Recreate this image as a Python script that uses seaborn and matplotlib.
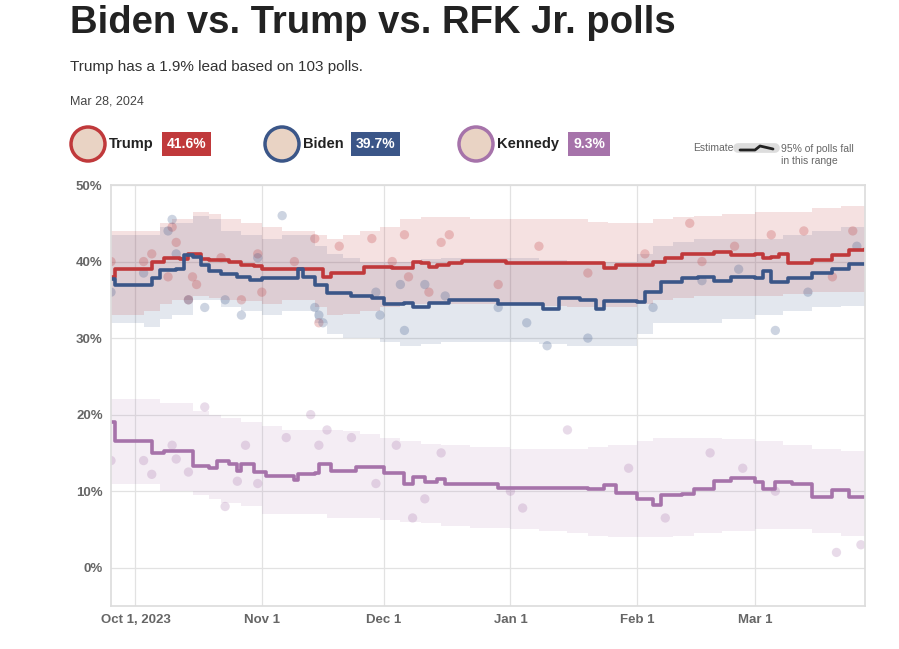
import pandas as pd
import numpy as np
import matplotlib.pyplot as plt
import matplotlib.dates as mdates
from matplotlib.patches import Ellipse
import seaborn as sns

sns.set_theme(style="white")
plt.rcParams['font.family'] = ['Liberation Sans', 'DejaVu Sans']

# Estimate lines (breakpoints, drawn as steps)
trump_dates = ["2023-09-25", "2023-09-26", "2023-10-03", "2023-10-05", "2023-10-08", "2023-10-12", "2023-10-14",
               "2023-10-17", "2023-10-19", "2023-10-24", "2023-10-27", "2023-10-30", "2023-11-01", "2023-11-14",
               "2023-11-16", "2023-11-18", "2023-11-20", "2023-11-26", "2023-12-03", "2023-12-08", "2023-12-10",
               "2023-12-12", "2023-12-14", "2023-12-17", "2023-12-20", "2023-12-31", "2024-01-22", "2024-01-24",
               "2024-01-27", "2024-02-01", "2024-02-05", "2024-02-08", "2024-02-12", "2024-02-20", "2024-02-24",
               "2024-03-01", "2024-03-03", "2024-03-05", "2024-03-07", "2024-03-09", "2024-03-15", "2024-03-20",
               "2024-03-24", "2024-03-28"]
trump_vals = [38, 39, 39, 40, 40.5, 40.3, 41, 40.3, 40.2, 40, 39.5, 39.4, 39.0, 39, 38, 38.5, 38.5, 39.3, 39.2, 39.9,
              39.8, 39.3, 39.6, 39.8, 40.1, 39.8, 39.8, 39.1, 39.5, 39.6, 40, 40.5, 41, 41.3, 40.8, 41.0, 40.5, 40.6,
              41.0, 39.8, 40.2, 40.8, 41.5, 41.6]

biden_dates = ["2023-09-25", "2023-09-26", "2023-10-03", "2023-10-05", "2023-10-07", "2023-10-11", "2023-10-13",
               "2023-10-15", "2023-10-17", "2023-10-19", "2023-10-22", "2023-10-26", "2023-10-29", "2023-11-01",
               "2023-11-09", "2023-11-10", "2023-11-11", "2023-11-14", "2023-11-17", "2023-11-23", "2023-11-28",
               "2023-12-01", "2023-12-06", "2023-12-08", "2023-12-12", "2023-12-17", "2023-12-29", "2024-01-09",
               "2024-01-13", "2024-01-18", "2024-01-22", "2024-01-24", "2024-02-01", "2024-02-03", "2024-02-07",
               "2024-02-12", "2024-02-16", "2024-02-20", "2024-02-24", "2024-03-01", "2024-03-03", "2024-03-05",
               "2024-03-09", "2024-03-15", "2024-03-20", "2024-03-24", "2024-03-28"]
biden_vals = [37.7, 37.0, 37.0, 37.8, 38.9, 39.0, 40.8, 40.6, 39.5, 38.8, 38.4, 38.0, 37.6, 37.8, 37.8, 39.0, 38.0,
              37.0, 35.9, 35.5, 35.3, 34.4, 34.6, 34.1, 34.6, 35.0, 34.4, 33.8, 35.3, 35.0, 33.8, 34.8, 34.7, 36.0,
              37.3, 37.8, 38.0, 37.5, 38.0, 37.8, 38.8, 37.3, 37.8, 38.5, 39.0, 39.7, 39.7]

kennedy_dates = ["2023-09-25", "2023-09-26", "2023-10-03", "2023-10-05", "2023-10-08", "2023-10-13", "2023-10-15",
                 "2023-10-19", "2023-10-21", "2023-10-24", "2023-10-26", "2023-10-27", "2023-10-30", "2023-11-02",
                 "2023-11-09", "2023-11-10", "2023-11-14", "2023-11-15", "2023-11-18", "2023-11-24", "2023-12-01",
                 "2023-12-06", "2023-12-08", "2023-12-11", "2023-12-14", "2023-12-16", "2023-12-29", "2024-01-20",
                 "2024-01-24", "2024-01-27", "2024-02-01", "2024-02-05", "2024-02-07", "2024-02-12", "2024-02-15",
                 "2024-02-20", "2024-02-24", "2024-03-01", "2024-03-03", "2024-03-06", "2024-03-10", "2024-03-15",
                 "2024-03-20", "2024-03-24", "2024-03-28"]
kennedy_vals = [19, 16.5, 16.5, 15, 15.3, 15.3, 13.3, 13, 14, 13.6, 12.6, 13.5, 12.5, 12.0, 11.5, 12.3, 12.4, 13.5,
                12.6, 13.1, 12.4, 11, 11.8, 11.2, 11.6, 11.0, 10.4, 10.3, 10.8, 9.8, 9.0, 8.2, 9.5, 9.6, 10.3, 11.3,
                11.7, 11.2, 10.3, 11.2, 11.0, 9.3, 10.2, 9.3, 9.3]

# 95% ranges
band_dates = ["2023-09-25", "2023-10-03", "2023-10-07", "2023-10-10", "2023-10-15", "2023-10-19", "2023-10-22",
              "2023-10-27", "2023-11-01", "2023-11-06", "2023-11-10", "2023-11-14", "2023-11-17", "2023-11-21",
              "2023-11-25", "2023-11-30", "2023-12-05", "2023-12-10", "2023-12-15", "2023-12-22", "2024-01-01",
              "2024-01-08", "2024-01-15", "2024-01-20", "2024-01-25", "2024-02-01", "2024-02-05", "2024-02-10",
              "2024-02-15", "2024-02-22", "2024-03-01", "2024-03-08", "2024-03-15", "2024-03-22", "2024-03-28"]
trump_hi = [44, 44, 45, 45.5, 46.5, 46.2, 45.5, 45, 44.5, 44, 44, 43.5, 43, 43.5, 44, 44.5, 45.5, 45.8, 45.8, 45.5,
            45.5, 45.5, 45.5, 45.2, 45, 45, 45.5, 45.8, 46, 46.2, 46.5, 46.5, 47, 47.2, 47.2]
trump_lo = [33, 33.5, 34.5, 35, 35.5, 35.2, 35, 34.8, 34.5, 35, 35, 34, 33, 33.2, 33.5, 34, 34.5, 34.5, 34.5, 34.5,
            34.5, 34.2, 34, 34, 34, 34.5, 35, 35.2, 35.5, 35.5, 35.5, 35.8, 36, 36, 36]
biden_hi = [43.5, 43.5, 44.5, 45, 46, 45.5, 44, 43.5, 43, 43.5, 43.5, 42, 41, 40.5, 40, 40, 40, 40.3, 40.5, 40.5,
            40.5, 40.2, 40, 40, 40, 41, 42, 42.5, 43, 43, 43, 43.5, 44, 44.5, 45]
biden_lo = [32, 31.5, 32.5, 33, 35, 35, 34, 33.5, 33, 33.5, 33.5, 32, 30.5, 30, 30, 29.5, 29, 29.2, 29.5, 29.5,
            29.5, 29.2, 29, 29, 29, 30.5, 32, 32, 32, 32.5, 33, 33.5, 34, 34.2, 34.5]
kennedy_hi = [22, 22, 21.5, 21.5, 20.5, 20, 19.5, 19, 18.5, 18, 18, 18, 18, 17.8, 17.5, 17, 16.5, 16.2, 16, 15.8,
              15.5, 15.5, 15.5, 15.8, 16, 16.5, 17, 17, 17, 16.8, 16.5, 16, 15.5, 15.2, 15]
kennedy_lo = [11, 11, 10, 10, 9.5, 9, 8.5, 8, 7, 7, 7, 7, 6.5, 6.5, 6.5, 6.2, 6, 5.8, 5.5, 5.2, 5, 4.8, 4.5, 4.2,
              4, 4, 4, 4.2, 4.5, 4.8, 5, 5, 4.5, 4.2, 4]

# individual polls
trump_poll_d = ["2023-09-25", "2023-10-03", "2023-10-05", "2023-10-09", "2023-10-10", "2023-10-11", "2023-10-14",
                "2023-10-15", "2023-10-16", "2023-10-22", "2023-10-27", "2023-10-31", "2023-11-01", "2023-11-09",
                "2023-11-14", "2023-11-15", "2023-11-20", "2023-11-28", "2023-12-03", "2023-12-06", "2023-12-07",
                "2023-12-12", "2023-12-15", "2023-12-17", "2023-12-29", "2024-01-08", "2024-01-20", "2024-02-03",
                "2024-02-14", "2024-02-17", "2024-02-25", "2024-03-05", "2024-03-13", "2024-03-20", "2024-03-25"]
trump_poll_v = [40, 40, 41, 38, 44.5, 42.5, 35, 38, 37, 40.5, 35, 41, 36, 40, 43, 32, 42, 43, 40, 43.5, 38, 36, 42.5,
                43.5, 37, 42, 38.5, 41, 45, 40, 42, 43.5, 44, 38, 44]
biden_poll_d = ["2023-09-25", "2023-10-03", "2023-10-09", "2023-10-10", "2023-10-11", "2023-10-14", "2023-10-18",
                "2023-10-23", "2023-10-27", "2023-10-31", "2023-11-06", "2023-11-14", "2023-11-15", "2023-11-16",
                "2023-11-29", "2023-11-30", "2023-12-05", "2023-12-06", "2023-12-11", "2023-12-16", "2023-12-29",
                "2024-01-05", "2024-01-10", "2024-01-20", "2024-02-05", "2024-02-17", "2024-02-26", "2024-03-06",
                "2024-03-14", "2024-03-26"]
biden_poll_v = [36, 38.5, 44, 45.5, 41, 35, 34, 35, 33, 40.5, 46, 34, 33, 32, 36, 33, 37, 31, 37, 35.5, 34, 32,
                29, 30, 34, 37.5, 39, 31, 36, 42]
kennedy_poll_d = ["2023-09-25", "2023-10-03", "2023-10-05", "2023-10-10", "2023-10-11", "2023-10-14", "2023-10-18",
                  "2023-10-23", "2023-10-26", "2023-10-28", "2023-10-31", "2023-11-07", "2023-11-13", "2023-11-15",
                  "2023-11-17", "2023-11-23", "2023-11-29", "2023-12-04", "2023-12-08", "2023-12-11", "2023-12-15",
                  "2024-01-01", "2024-01-04", "2024-01-15", "2024-01-30", "2024-02-08", "2024-02-19", "2024-02-27",
                  "2024-03-06", "2024-03-21", "2024-03-27"]
kennedy_poll_v = [14, 14, 12.2, 16, 14.2, 12.5, 21, 8, 11.3, 16, 11, 17, 20, 16, 18, 17, 11, 16, 6.5, 9, 15, 10,
                  7.8, 18, 13, 6.5, 15, 13, 10, 2, 3]

colors = {"Trump": "#c0393b", "Biden": "#3b5688", "Kennedy": "#a673aa"}
band_alpha = {"Trump": 0.15, "Biden": 0.14, "Kennedy": 0.12}

lines = pd.concat([
    pd.DataFrame({"date": pd.to_datetime(trump_dates), "value": trump_vals, "cand": "Trump"}),
    pd.DataFrame({"date": pd.to_datetime(biden_dates), "value": biden_vals, "cand": "Biden"}),
    pd.DataFrame({"date": pd.to_datetime(kennedy_dates), "value": kennedy_vals, "cand": "Kennedy"}),
])
polls = pd.concat([
    pd.DataFrame({"date": pd.to_datetime(trump_poll_d), "value": trump_poll_v, "cand": "Trump"}),
    pd.DataFrame({"date": pd.to_datetime(biden_poll_d), "value": biden_poll_v, "cand": "Biden"}),
    pd.DataFrame({"date": pd.to_datetime(kennedy_poll_d), "value": kennedy_poll_v, "cand": "Kennedy"}),
])
bd = pd.to_datetime(band_dates)
bands = {"Trump": (trump_lo, trump_hi), "Biden": (biden_lo, biden_hi), "Kennedy": (kennedy_lo, kennedy_hi)}

fig = plt.figure(figsize=(8.99, 6.49), dpi=100)
ax = fig.add_axes([111 / 899, 43 / 649, 754 / 899, 421 / 649])

for c in ["Biden", "Trump", "Kennedy"]:
    lo, hi = bands[c]
    ax.fill_between(bd, lo, hi, step="post", color=colors[c], alpha=band_alpha[c], lw=0)

sns.scatterplot(data=polls, x="date", y="value", hue="cand", palette=colors, s=45, alpha=0.25,
                edgecolor="none", legend=False, ax=ax)
sns.lineplot(data=lines, x="date", y="value", hue="cand", palette=colors, lw=2.6,
             drawstyle="steps-post", legend=False, ax=ax)

ax.set_xlim(pd.Timestamp("2023-09-25"), pd.Timestamp("2024-03-28"))
ax.set_ylim(-5, 50)
ax.set_yticks([0, 10, 20, 30, 40, 50])
ax.set_yticklabels([f"{v}%" for v in [0, 10, 20, 30, 40, 50]])
month_ticks = pd.to_datetime(["2023-10-01", "2023-11-01", "2023-12-01", "2024-01-01", "2024-02-01", "2024-03-01"])
ax.set_xticks(month_ticks)
ax.set_xticklabels(["Oct 1, 2023", "Nov 1", "Dec 1", "Jan 1", "Feb 1", "Mar 1"])
ax.grid(True, color="#e2e2e2", lw=0.9)
ax.set_axisbelow(True)
for s in ax.spines.values():
    s.set_color("#dddddd")
ax.tick_params(length=0, labelsize=9.5, labelcolor="#666666", pad=6)
for t in ax.get_xticklabels() + ax.get_yticklabels():
    t.set_fontweight("bold")
ax.set_xlabel("")
ax.set_ylabel("")

# header
fig.text(70 / 899, 1 - 23 / 649, "Biden vs. Trump vs. RFK Jr. polls", fontsize=27.5, fontweight="bold",
         color="#222222", va="center")
fig.text(70 / 899, 1 - 67 / 649, "Trump has a 1.9% lead based on 103 polls.", fontsize=11,
         color="#333333", va="center")
fig.text(70 / 899, 1 - 101 / 649, "Mar 28, 2024", fontsize=9, color="#444444", va="center")

names = ["Trump", "Biden", "Kennedy"]
latest = [trump_vals[-1], biden_vals[-1], kennedy_vals[-1]]
xs = [88, 282, 476]
box_xs = [167, 356, 573]
for name, val, x0, bx in zip(names, latest, xs, box_xs):
    y0 = 1 - 144 / 649
    fig.patches.append(Ellipse((x0 / 899, y0), 34 / 899, 34 / 649, transform=fig.transFigure,
                               facecolor="#e9d3c4", edgecolor=colors[name], lw=2.5))
    fig.text((x0 + 21) / 899, y0, name, fontsize=10.5, fontweight="bold", color="#222222", va="center")
    fig.text(bx / 899, y0, f"{val:.1f}%", fontsize=10, fontweight="bold", color="white", va="center",
             bbox=dict(boxstyle="square,pad=0.35", fc=colors[name], ec="none"))

fig.text(734 / 899, 1 - 148 / 649, "Estimate", fontsize=7.5, color="#666666", va="center", ha="right")
fig.lines.append(plt.Line2D([738 / 899, 775 / 899], [1 - 148 / 649] * 2, transform=fig.transFigure,
                            color="#dddddd", lw=7))
fig.lines.append(plt.Line2D([740 / 899, 755 / 899, 760 / 899, 773 / 899],
                            [1 - 150 / 649, 1 - 150 / 649, 1 - 146 / 649, 1 - 149 / 649],
                            transform=fig.transFigure, color="#222222", lw=2))
fig.text(781 / 899, 1 - 155 / 649, "95% of polls fall\nin this range", fontsize=7.5, color="#666666",
         va="center", ha="left", linespacing=1.2)

fig.savefig("out.png", dpi=100)
